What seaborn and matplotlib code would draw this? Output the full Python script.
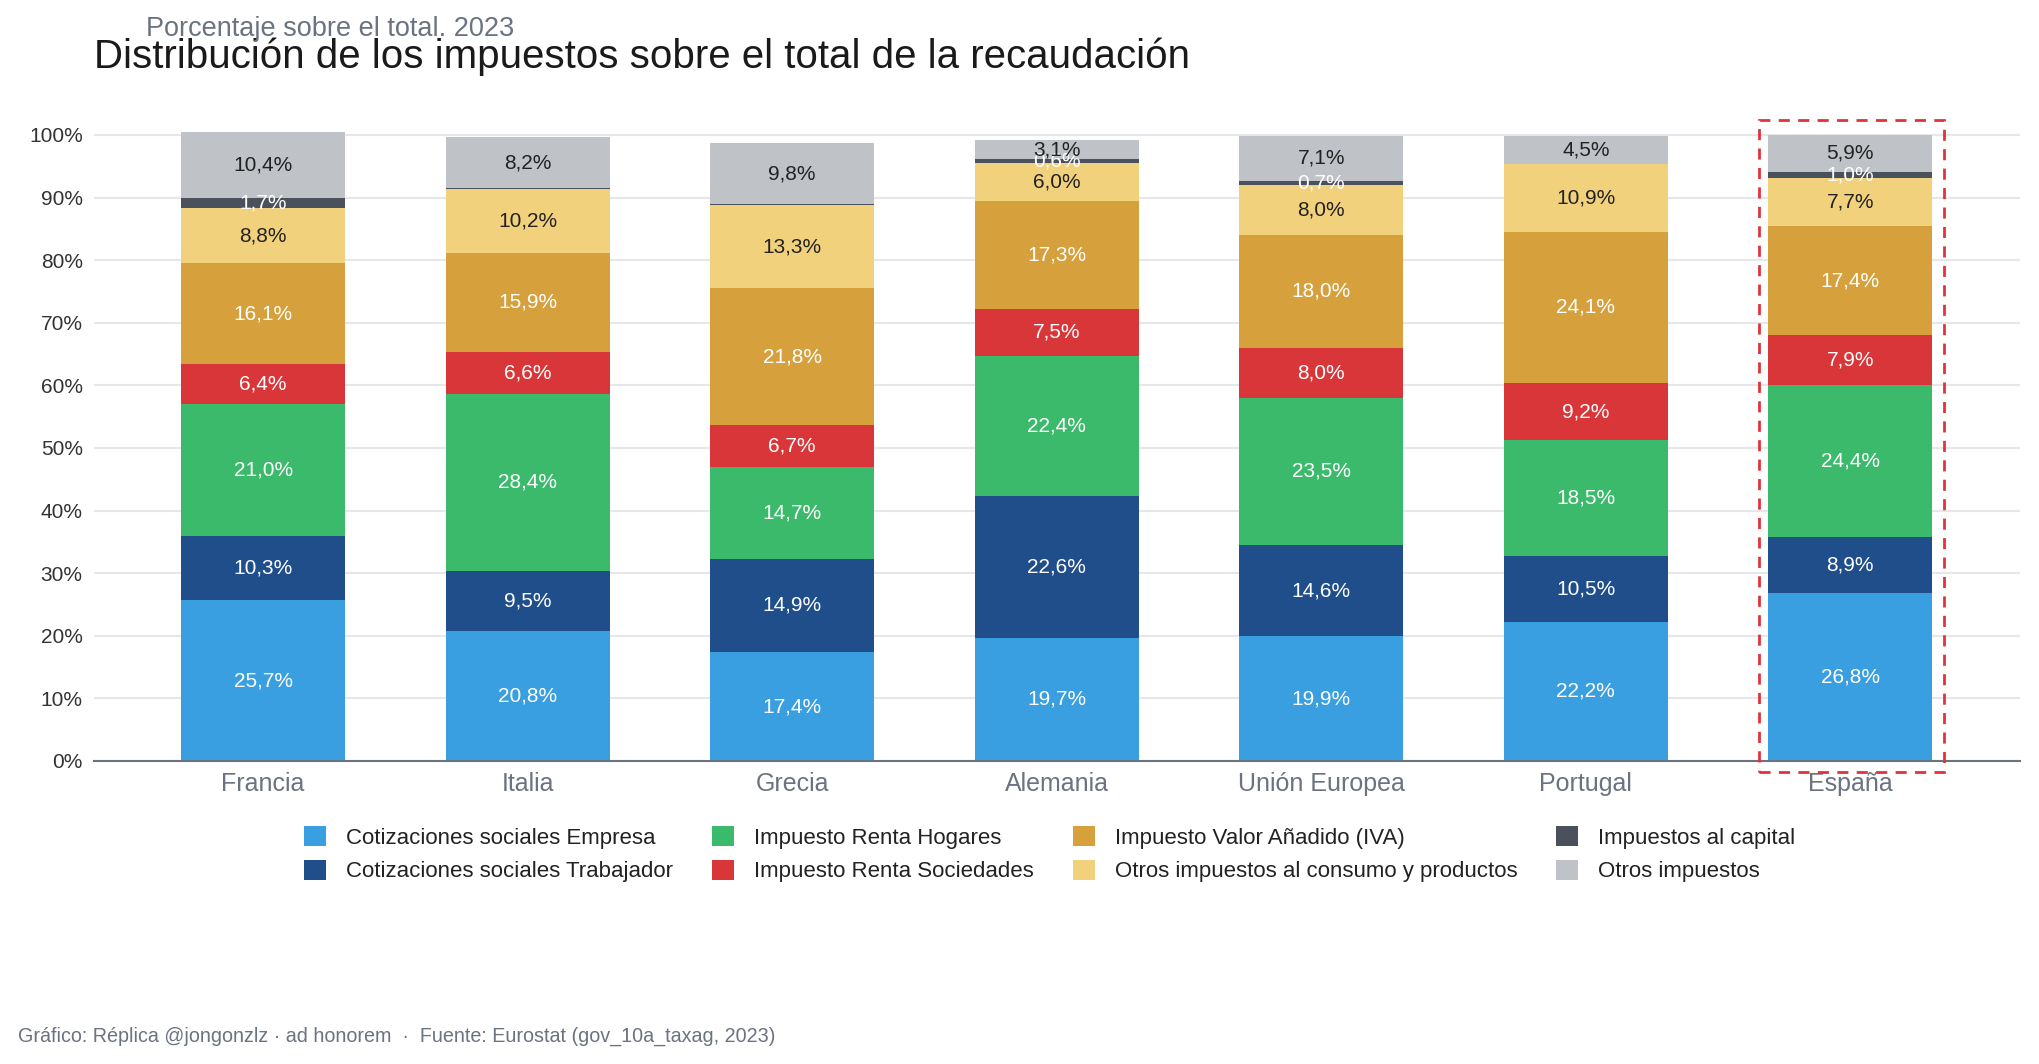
import matplotlib
matplotlib.use("Agg")
import matplotlib.pyplot as plt
from matplotlib.patches import Rectangle, Patch
import seaborn as sns
import pandas as pd
import numpy as np

countries = ["Francia", "Italia", "Grecia", "Alemania", "Unión Europea", "Portugal", "España"]
series_names = [
    "Cotizaciones sociales Empresa",
    "Cotizaciones sociales Trabajador",
    "Impuesto Renta Hogares",
    "Impuesto Renta Sociedades",
    "Impuesto Valor Añadido (IVA)",
    "Otros impuestos al consumo y productos",
    "Impuestos al capital",
    "Otros impuestos",
]
cot_empresa = [25.7, 20.8, 17.4, 19.7, 19.9, 22.2, 26.8]
cot_trabajador = [10.3, 9.5, 14.9, 22.6, 14.6, 10.5, 8.9]
renta_hogares = [21.0, 28.4, 14.7, 22.4, 23.5, 18.5, 24.4]
renta_sociedades = [6.4, 6.6, 6.7, 7.5, 8.0, 9.2, 7.9]
iva = [16.1, 15.9, 21.8, 17.3, 18.0, 24.1, 17.4]
otros_consumo = [8.8, 10.2, 13.3, 6.0, 8.0, 10.9, 7.7]
capital = [1.7, 0.1, 0.1, 0.6, 0.7, 0.0, 1.0]
otros = [10.4, 8.2, 9.8, 3.1, 7.1, 4.5, 5.9]

series_values = [cot_empresa, cot_trabajador, renta_hogares, renta_sociedades,
                 iva, otros_consumo, capital, otros]
colors = ["#3a9fe0", "#1f4e8b", "#3bba6b", "#d9363a", "#d6a03d", "#f2d17c", "#4b515c", "#bfc2c6"]
label_colors = ["white", "white", "white", "white", "white", "#222222", "white", "#222222"]

FONT = ["Liberation Sans", "DejaVu Sans"]
sns.set_theme(style="white")
plt.rcParams["font.family"] = FONT

fig = plt.figure(figsize=(20.4, 10.64), dpi=100)
ax = fig.add_axes([0.046, 0.2848, 0.944, 0.6001])

vals = np.array(series_values)
cum = np.cumsum(vals, axis=0)

# draw from top (largest cumulative) down so each visible segment equals its value
for i in range(len(series_names) - 1, -1, -1):
    df = pd.DataFrame({"pais": countries, "valor": cum[i]})
    sns.barplot(data=df, x="pais", y="valor", color=colors[i], width=0.62,
                saturation=1, ax=ax, linewidth=0, zorder=2)

# labels
for i in range(len(series_names)):
    for j in range(len(countries)):
        v = vals[i, j]
        if v < 0.5:
            continue
        y = cum[i, j] - v / 2
        ax.text(j, y, f"{v:.1f}%".replace(".", ","), ha="center", va="center",
                fontsize=15, color=label_colors[i], zorder=5)

ax.set_xlim(-0.64, 6.64)
ax.set_ylim(0, 102)
ax.set_yticks(np.arange(0, 101, 10))
ax.set_yticklabels([f"{t}%" for t in range(0, 101, 10)], fontsize=15, color="#333333")
ax.tick_params(axis="y", length=0, pad=8)
ax.tick_params(axis="x", length=0, pad=8, labelsize=18, labelcolor="#6b7280")
ax.set_xlabel("")
ax.set_ylabel("")
ax.grid(axis="y", color="#e5e7eb", linewidth=1.5, zorder=0)
ax.set_axisbelow(True)
for s in ["top", "right", "left"]:
    ax.spines[s].set_visible(False)
ax.spines["bottom"].set_color("#6b7280")
ax.spines["bottom"].set_linewidth(1.5)

# highlight rectangle around España
rect = Rectangle((5.653, -1.76), 0.70, 104.2, fill=False, edgecolor="#e0343a",
                 linestyle=(0, (4, 3)), linewidth=2, clip_on=False, zorder=6)
ax.add_patch(rect)

# titles
fig.text(94 / 2040, 1 - 68 / 1064, "Distribución de los impuestos sobre el total de la recaudación",
         fontsize=29, color="#1a1a1a", ha="left", va="baseline")
fig.text(146 / 2040, 1 - 36 / 1064, "Porcentaje sobre el total. 2023",
         fontsize=19.5, color="#6b7280", ha="left", va="baseline")

# legend
handles = [Patch(facecolor=c, edgecolor="none") for c in colors]
fig.legend(handles, series_names, loc="upper left", bbox_to_anchor=(0.139, 1 - 806 / 1064),
           ncol=4, frameon=False, fontsize=16, handlelength=1.0, handleheight=1.0,
           handletextpad=0.9, columnspacing=1.75, labelspacing=0.5, labelcolor="#222222")

fig.text(18 / 2040, 1 - 1042 / 1064,
         "Gráfico: Réplica @jongonzlz · ad honorem  ·  Fuente: Eurostat (gov_10a_taxag, 2023)",
         fontsize=14.2, color="#6b7280", ha="left", va="baseline")

fig.savefig("out.png", dpi=100, facecolor="white")
